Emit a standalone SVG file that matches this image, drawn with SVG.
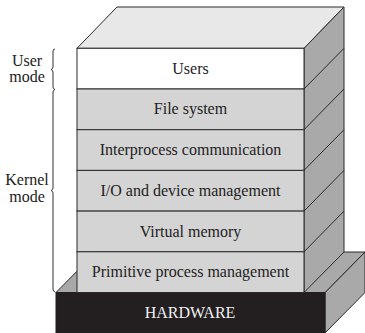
<svg xmlns="http://www.w3.org/2000/svg" width="365" height="333" viewBox="0 0 365 333">
  <style>
    .edge { stroke: #2b2b2b; stroke-width: 1; stroke-linejoin: miter; }
    .layer { fill: #d4d4d4; }
    .side { fill: #a9a9a9; }
    .top { fill: #e8e8e8; }
    .label { font-family: "Liberation Serif", "DejaVu Serif", serif; font-size: 16px; fill: #222; text-anchor: middle; }
    .brace { fill: none; stroke: #333; stroke-width: 1; }
  </style>
  <rect width="365" height="333" fill="#ffffff"/>

  <!-- hardware base -->
  <g id="hardware">
    <polygon class="side edge" points="325,292.5 365,252 365,292.5 325,333"/>
    <polygon class="side edge" points="56,292.5 96,252 365,252 325,292.5"/>
    <rect x="56" y="292.5" width="269" height="41" fill="#231f20" stroke="#231f20"/>
    <text class="label" x="190" y="317.5" style="fill:#f2f2f2">HARDWARE</text>
  </g>

  <!-- stack: top and right faces -->
  <g id="stack-faces">
    <polygon class="top edge" points="77,48.3 117,7 344,7 304,48.3"/>
    <polygon class="side edge" points="304,48.3 344,7 344,252 304,292.5"/>
  </g>

  <g id="users">
    <rect x="77" y="48.3" width="227" height="40.7" fill="#ffffff" class="edge"/>
    <text class="label" x="190.5" y="73.6">Users</text>
  </g>
  <g id="file-system">
    <rect x="77" y="89" width="227" height="40.7" class="layer edge"/>
    <text class="label" x="190.5" y="114.4">File system</text>
  </g>
  <g id="ipc">
    <rect x="77" y="129.7" width="227" height="40.7" class="layer edge"/>
    <text class="label" x="190.5" y="155.1">Interprocess communication</text>
  </g>
  <g id="io">
    <rect x="77" y="170.4" width="227" height="40.7" class="layer edge"/>
    <text class="label" x="190.5" y="195.8">I/O and device management</text>
  </g>
  <g id="virtual-memory">
    <rect x="77" y="211.1" width="227" height="40.7" class="layer edge"/>
    <text class="label" x="190.5" y="236.5">Virtual memory</text>
  </g>
  <g id="primitive">
    <rect x="77" y="251.8" width="227" height="40.7" class="layer edge"/>
    <text class="label" x="190.5" y="277.2">Primitive process management</text>
  </g>

  <!-- layer boundaries continued on the right face -->
  <g id="side-lines" class="edge" fill="none">
    <line x1="304" y1="89" x2="344" y2="48.3"/>
    <line x1="304" y1="129.7" x2="344" y2="89"/>
    <line x1="304" y1="170.4" x2="344" y2="129.7"/>
    <line x1="304" y1="211.1" x2="344" y2="170.4"/>
    <line x1="304" y1="251.8" x2="344" y2="211.1"/>
  </g>

  <!-- mode braces -->
  <g id="user-mode">
    <path class="brace" d="M55,49 Q53,49 53,51 L53,67 Q53,69 51,69.5 Q53,70 53,72 L53,87 Q53,89 55,89.5"/>
    <text class="label" x="27" y="65.5">User</text>
    <text class="label" x="27" y="81.5">mode</text>
  </g>
  <g id="kernel-mode">
    <path class="brace" d="M55,89.5 Q53,90 53,92 L53,188 Q53,190 51,190.5 Q53,191 53,193 L53,289 Q53,291.5 55,292"/>
    <text class="label" x="27" y="185">Kernel</text>
    <text class="label" x="27" y="201.5">mode</text>
  </g>
</svg>
